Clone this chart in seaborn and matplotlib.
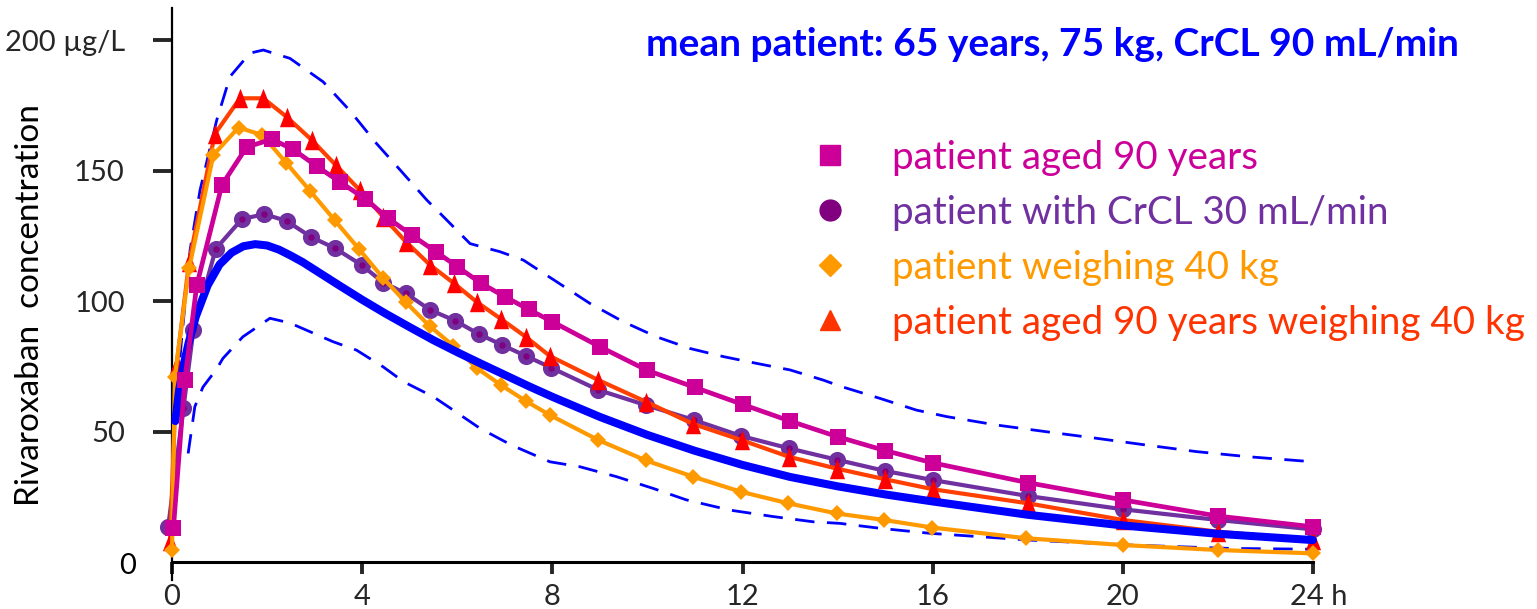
import numpy as np
import pandas as pd
import seaborn as sns
import matplotlib.pyplot as plt
from matplotlib.lines import Line2D
from matplotlib.transforms import ScaledTranslation

# ---------------- data ----------------
t_aged90 = [0.03, 0.27, 0.52, 1.05, 1.57, 2.1, 2.55, 3.04, 3.53, 4.06, 4.55, 5.04, 5.55, 6.0, 6.5,
            7.0, 7.5, 8.0, 9, 10, 11, 12, 13, 14, 15, 16, 18, 20, 22, 24]
c_aged90 = [13, 69.7, 106, 144.5, 159, 162, 158.1, 151.7, 145.7, 139.2, 131.7, 125.3, 118.9, 113.2, 106.8,
            101.7, 96.8, 92.1, 82.5, 73.4, 66.9, 60.4, 54, 48, 42.7, 38, 30.4, 23.8, 17.6, 13.5]

t_crcl30 = [-0.08, 0.24, 0.45, 0.92, 1.47, 1.94, 2.41, 2.92, 3.43, 3.99, 4.44, 4.92, 5.43, 5.95, 6.45,
            6.95, 7.45, 7.97, 8.97, 9.97, 10.98, 11.97, 12.97, 13.98, 15, 16, 18, 20, 22, 24]
c_crcl30 = [13.5, 58.9, 88.9, 120, 131.4, 133.3, 130.7, 124.6, 120.2, 113.8, 107.1, 102.9, 96.6, 92.5, 87.4,
            83.1, 78.9, 74.5, 65.9, 60.1, 54.4, 48.3, 43.6, 39.2, 34.9, 31.4, 25.3, 20.2, 16.1, 12.5]

t_40kg = [0, 0.06, 0.36, 0.87, 1.4, 1.9, 2.4, 2.9, 3.42, 3.93, 4.43, 4.92, 5.42, 5.92, 6.42,
          6.92, 7.44, 7.95, 8.97, 9.97, 10.96, 11.97, 12.96, 13.98, 14.98, 15.99, 17.97, 20, 22, 24]
c_40kg = [4.6, 71, 112.6, 156, 166.5, 163.6, 153, 142.3, 131, 120, 109, 99.5, 90.4, 82.8, 74.2,
          67.8, 61.7, 56.3, 46.7, 38.9, 32.7, 26.9, 22.5, 18.6, 16.1, 13.2, 9.1, 6.5, 4.6, 3.3]

t_aged90_40kg = [-0.04, 0.1, 0.36, 0.9, 1.43, 1.92, 2.41, 2.94, 3.45, 3.95, 4.44, 4.92, 5.43, 5.93, 6.42,
                 6.93, 7.44, 7.95, 8.97, 9.97, 10.96, 11.98, 12.98, 13.98, 15, 16, 18, 20, 22, 24]
c_aged90_40kg = [8, 76, 115, 164, 177.7, 177.7, 170.6, 161.7, 152, 142.5, 132.3, 122.7, 113.8, 106.8, 99.5,
                 93, 86.3, 78.9, 69.7, 61.4, 52.9, 46.7, 40.3, 35.8, 31.7, 27.9, 22.5, 16.1, 11.6, 8.4]

t_mean = [0.07, 0.15, 0.25, 0.35, 0.5, 0.75, 1, 1.25, 1.5, 1.75, 2, 2.25, 2.5, 2.75, 3, 3.5, 4, 4.5,
          5, 5.5, 6, 6.5, 7, 7.5, 8, 9, 10, 11, 12, 13, 14, 15, 16, 18, 20, 22, 24]
c_mean = [54, 66, 76, 84, 94, 106, 114, 118.5, 121, 121.8, 121.3, 119.7, 117.4, 114.9, 112.0, 106.2, 100.5, 95.1,
          90.0, 85.0, 80.4, 76.0, 71.7, 67.4, 63.3, 55.6, 48.7, 42.6, 37.2, 32.6, 29.0, 25.9, 23.2, 18.1, 14.0,
          10.8, 8.4]

t_upper = [0.06, 0.2, 0.27, 0.38, 0.59, 0.94, 1.22, 1.64, 1.92, 2.48, 3.18, 3.74, 4.3, 4.8, 5.36, 5.64,
           6.27, 6.9, 7.39, 8.09, 8.79, 9.49, 10.19, 10.9, 11.6, 12.3, 13, 13.7, 14.05, 14.89, 15.66,
           16.3, 17.34, 18.4, 19.45, 20.5, 21.55, 22.6, 24]
c_upper = [54, 85, 98, 119.5, 142.5, 169.3, 186, 195, 196.2, 193, 184, 173, 160.4, 150.2, 138.7, 133.6,
           122, 118.9, 115.7, 107.4, 99.1, 92.1, 86.3, 81.8, 78.7, 76.1, 73.6, 69.7, 67.4, 62.7, 58.2,
           55.7, 52.5, 49.9, 47.4, 44.8, 42.3, 40.4, 38.4]

t_lower = [0.34, 0.48, 0.65, 0.94, 1.07, 1.49, 2.06, 2.48, 3.39, 3.88, 4.44, 4.87, 5.5, 5.81, 6.48,
           7.14, 7.95, 8.58, 9.35, 10.12, 10.82, 11.73, 12.65, 13.49, 14.05, 14.9, 15.94, 18.04, 20.15,
           22.25, 24]
c_lower = [41.6, 59.5, 67, 74, 78, 86.3, 93.4, 91.6, 84.4, 81.2, 74.8, 69.1, 63.3, 59.5, 51.2,
           44.8, 38.4, 36.5, 32.7, 28.2, 23.8, 19.9, 17.4, 15.4, 14.8, 12.9, 11, 8.4, 6.5,
           5.2, 4.9]

legend_labels = ["patient aged 90 years", "patient with CrCL 30 mL/min",
                 "patient weighing 40 kg", "patient aged 90 years weighing 40 kg"]
title_text = "mean patient: 65 years, 75 kg, CrCL 90 mL/min"
ylabel_text = "Rivaroxaban  concentration"
x_ticks = [0, 4, 8, 12, 16, 20, 24]
x_ticklabels = ["0", "4", "8", "12", "16", "20", "24 h"]
y_ticks = [50, 100, 150, 200]
y_ticklabels = ["50", "100", "150", "200 µg/L"]

# ---------------- style ----------------
MAGENTA = "#CC0099"
PURPLE_LINE = "#7030A0"
PURPLE_DOT = "#80007F"
ORANGE = "#FF9900"
RED_M = "#FF0000"
RED_L = "#FF4000"
RED_T = "#FF3300"
BLUE = "#0000FF"

sns.set_style("white")
plt.rcParams['font.family'] = ['Lato', 'DejaVu Sans']

W, H = 1537, 609
fig = plt.figure(figsize=(W / 100, H / 100), dpi=100)
ax = fig.add_axes([172 / W, 47 / H, 1141 / W, 554 / H])
ax.set_xlim(0, 24)
ax.set_ylim(0, 212.3)

tri = [(-0.78, -1), (0.78, -1), (0, 1)]


def draw(t, c, **kw):
    df = pd.DataFrame({"t": t, "c": c})
    sns.lineplot(data=df, x="t", y="c", ax=ax, estimator=None, sort=False,
                 legend=False, clip_on=False, **kw)


# confidence band (dashed)
draw(t_upper, c_upper, color=BLUE, lw=2.0, ls=(0, (7, 4.5)), zorder=2)
draw(t_lower, c_lower, color=BLUE, lw=2.0, ls=(0, (7, 4.5)), zorder=2)
# CrCL 30
draw(t_crcl30, c_crcl30, color=PURPLE_LINE, lw=3.0, marker="o", ms=8.5,
     mfc=PURPLE_DOT, mec=PURPLE_LINE, mew=3.8, zorder=3)
# aged 90 + 40 kg
draw(t_aged90_40kg, c_aged90_40kg, color=RED_L, lw=3.0, marker=tri, ms=14,
     mfc=RED_M, mec=RED_M, mew=0, zorder=4)
# 40 kg
draw(t_40kg, c_40kg, color=ORANGE, lw=3.0, marker="D", ms=8.6,
     mfc=ORANGE, mec=ORANGE, mew=0, zorder=5)
# mean patient
draw(t_mean, c_mean, color=BLUE, lw=5.8, zorder=6, solid_joinstyle="round")
# aged 90
draw(t_aged90, c_aged90, color=MAGENTA, lw=3.4, marker="s", ms=11.5,
     mfc=MAGENTA, mec=MAGENTA, mew=0, zorder=7)

# ---------------- axes ----------------
for s in ["top", "right"]:
    ax.spines[s].set_visible(False)
ax.spines["left"].set_linewidth(1.6)
ax.spines["bottom"].set_linewidth(2.2)
ax.spines["left"].set_color("black")
ax.spines["bottom"].set_color("black")
ax.spines["left"].set_bounds(-7, 212.3)

ax.set_xticks(x_ticks)
ax.set_xticklabels(x_ticklabels)
ax.set_yticks(y_ticks)
ax.set_yticklabels(y_ticklabels)
ax.tick_params(axis="x", length=8.5, width=2.8, pad=7, labelsize=21, direction="out", bottom=True)
ax.tick_params(axis="y", length=14, width=2.8, pad=20, labelsize=21, direction="out", left=True)
ax.set_xlabel("")
ax.set_ylabel("")

last = ax.get_xticklabels()[-1]
last.set_horizontalalignment("left")
last.set_transform(last.get_transform() + ScaledTranslation(-23 / 100, 0, fig.dpi_scale_trans))

ax.annotate("0", xy=(0, 0), xycoords="data", xytext=(-26, -3), textcoords="offset points",
            ha="right", va="center", fontsize=21, color="black")

fig.text(30 / W, 1 - 305 / H, ylabel_text, rotation=90, ha="center", va="center",
         fontsize=24, color="black")

fig.text(1052 / W, 1 - 45 / H, title_text, ha="center", va="center", fontsize=28,
         fontweight="bold", color=BLUE)

handles = [
    Line2D([], [], ls="none", marker="s", ms=15, color=MAGENTA),
    Line2D([], [], ls="none", marker="o", ms=15, color=PURPLE_DOT),
    Line2D([], [], ls="none", marker="D", ms=11, color=ORANGE),
    Line2D([], [], ls="none", marker="^", ms=15, color=RED_T),
]
leg = ax.legend(handles, legend_labels, loc="upper left",
                bbox_to_anchor=(811 / W, 1 - 140 / H), bbox_transform=fig.transFigure,
                frameon=False, borderpad=0, borderaxespad=0, handlelength=1.0,
                handletextpad=1.1, labelspacing=0.49,
                labelcolor=[MAGENTA, PURPLE_LINE, ORANGE, RED_T],
                prop={"family": ["Lato", "DejaVu Sans"], "size": 27.8})

fig.savefig("out.png", dpi=100)
